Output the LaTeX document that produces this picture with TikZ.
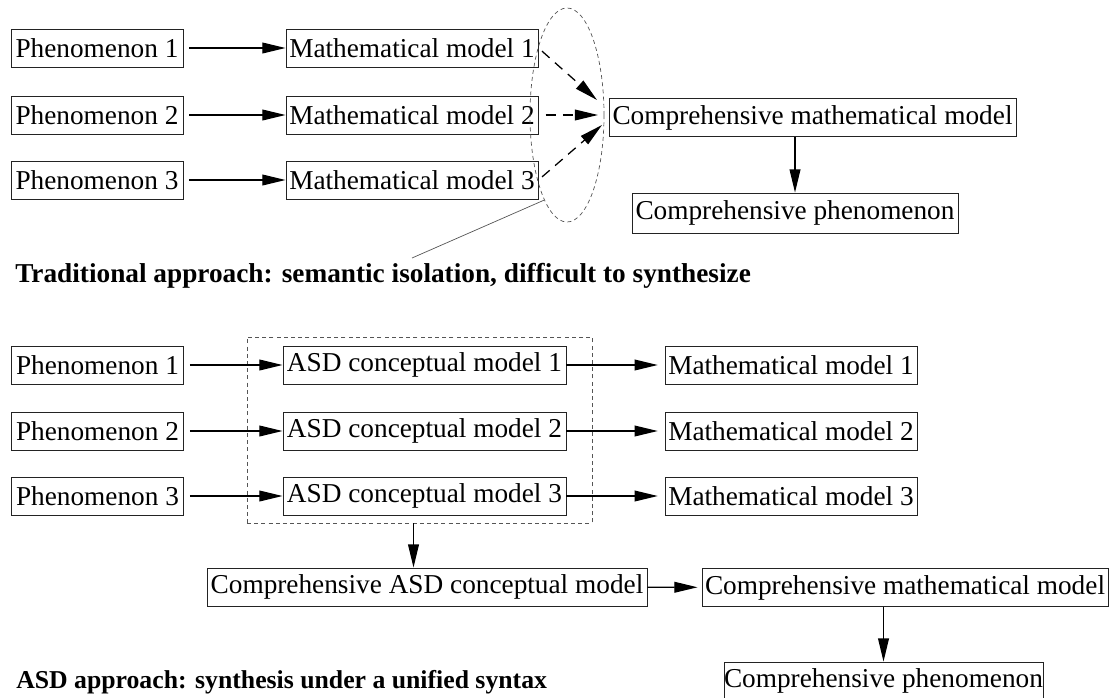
\documentclass[tikz,border=0pt]{standalone}
\usepackage{fontspec}
\setmainfont{Liberation Serif}
\usepackage{xcolor}
\definecolor{boxgray}{RGB}{35,35,35}
\definecolor{dashgray}{RGB}{85,85,85}
\usetikzlibrary{arrows.meta, positioning, shapes.geometric, calc}
\tikzset{
  modelbox/.style={draw=boxgray, line width=0.6pt, inner sep=0pt, minimum height=0.95cm, font=\fontsize{19.4}{23}\selectfont},
  flowarrow/.style={-{Triangle[length=0.58cm, width=0.27cm]}, line width=0.9pt},
  dasharrow/.style={flowarrow, dash pattern=on 0.25cm off 0.18cm},
  groupline/.style={draw=dashgray, line width=0.5pt, dash pattern=on 0.1cm off 0.08cm},
  titletext/.style={font=\fontsize{18.3}{22}\selectfont\bfseries, anchor=base west, inner sep=0pt}
}

\begin{document}
\begin{tikzpicture}[x=0.025cm, y=-0.025cm]
      \useasboundingbox (0,0) rectangle (1109,697);
      % Traditional approach: phenomena and separate models
      \node[modelbox, minimum width=4.3cm] (tphen1) at (97,48) {Phenomenon 1};
      \node[modelbox, minimum width=4.3cm] (tphen2) at (97,115) {Phenomenon 2};
      \node[modelbox, minimum width=4.3cm] (tphen3) at (97,180) {Phenomenon 3};
      \node[modelbox, minimum width=6.3cm] (tmath1) at (412,48) {Mathematical model 1};
      \node[modelbox, minimum width=6.3cm] (tmath2) at (412,115) {Mathematical model 2};
      \node[modelbox, minimum width=6.3cm] (tmath3) at (412,180) {Mathematical model 3};
      \node[modelbox, minimum width=10.175cm] (tcmath) at (812.5,117.5) {Comprehensive mathematical model};
      \node[modelbox, minimum width=8.15cm, minimum height=1cm] (tcphen) at (795,213) {Comprehensive phenomenon};
      % Isolation ellipse
      \node[ellipse, groupline, minimum width=1.85cm, minimum height=5.35cm] (isol) at (567,115) {};
      \coordinate (tin1) at (597,100);
      \coordinate (tin2) at (598,115);
      \coordinate (tin3) at (602,125);
      \coordinate (tnote) at (412,258);
      \draw[flowarrow, shorten <=0.15cm] (tphen1) -- (tmath1);
      \draw[flowarrow, shorten <=0.15cm] (tphen2) -- (tmath2);
      \draw[flowarrow, shorten <=0.15cm] (tphen3) -- (tmath3);
      \draw[dasharrow, shorten <=0.12cm] (tmath1.east) -- (tin1);
      \draw[dasharrow, shorten <=0.18cm] (tmath2.east) -- (tin2);
      \draw[dasharrow, shorten <=0.12cm] (tmath3.east) -- (tin3);
      \draw[flowarrow] (tcphen.north |- tcmath.south) -- (tcphen.north);
      \draw[draw=dashgray, line width=0.5pt] (isol.255) -- (tnote);
      \node[titletext, font=\fontsize{19.4}{22}\selectfont\bfseries] (ttitle) at (15,282) {Traditional approach: semantic isolation, difficult to synthesize};
      % ASD approach: conceptual models first
      \node[modelbox, minimum width=4.3cm] (aphen1) at (97.5,365) {Phenomenon 1};
      \node[modelbox, minimum width=4.3cm] (aphen2) at (97.5,431) {Phenomenon 2};
      \node[modelbox, minimum width=4.3cm] (aphen3) at (97.5,496) {Phenomenon 3};
      \node[modelbox, minimum width=7.075cm] (asd1) at (424.5,365) {ASD conceptual model 1};
      \node[modelbox, minimum width=7.075cm] (asd2) at (424.5,431) {ASD conceptual model 2};
      \node[modelbox, minimum width=7.075cm] (asd3) at (424.5,496) {ASD conceptual model 3};
      \node[modelbox, minimum width=6.3cm] (amath1) at (791,365) {Mathematical model 1};
      \node[modelbox, minimum width=6.3cm] (amath2) at (791,431) {Mathematical model 2};
      \node[modelbox, minimum width=6.3cm] (amath3) at (791,496) {Mathematical model 3};
      \node[groupline, minimum width=8.625cm, minimum height=4.65cm] (asdgroup) at (419.5,430) {};
      \node[modelbox, minimum width=11cm] (casd) at (427,587) {Comprehensive ASD conceptual model};
      \node[modelbox, minimum width=10.15cm] (acmath) at (905,587.5) {Comprehensive mathematical model};
      \node[modelbox, minimum width=7.925cm] (acphen) at (883.5,681) {Comprehensive phenomenon};
      \coordinate (gdrop) at ($(asdgroup.south)+(-6,0)$);
      \draw[flowarrow, shorten <=0.15cm] (aphen1) -- (asd1);
      \draw[flowarrow, shorten <=0.15cm] (aphen2) -- (asd2);
      \draw[flowarrow, shorten <=0.15cm] (aphen3) -- (asd3);
      \draw[flowarrow, shorten >=0.17cm] (asd1) -- (amath1);
      \draw[flowarrow, shorten >=0.17cm] (asd2) -- (amath2);
      \draw[flowarrow, shorten >=0.17cm] (asd3) -- (amath3);
      \draw[flowarrow] (gdrop) -- (gdrop |- casd.north);
      \draw[flowarrow, shorten >=0.1cm] (casd) -- (acmath);
      \draw[flowarrow] (acphen.north |- acmath.south) -- (acphen.north);
      \node[titletext] (atitle) at (16,688) {ASD approach: synthesis under a unified syntax};
    \end{tikzpicture}
\end{document}
